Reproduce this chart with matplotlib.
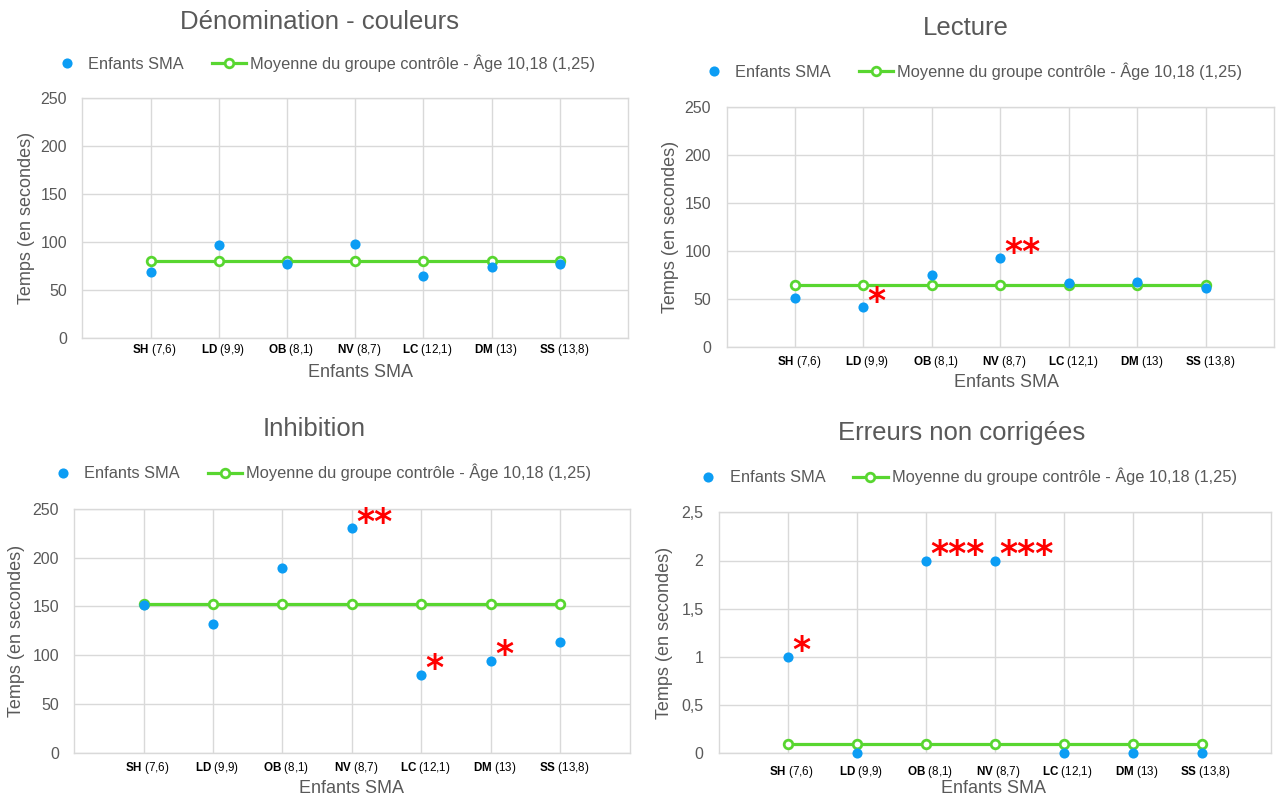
import matplotlib
matplotlib.use("Agg")
import matplotlib.pyplot as plt
from matplotlib.lines import Line2D
from matplotlib.ticker import FixedLocator, FuncFormatter
import matplotlib.transforms as mtransforms

plt.rcParams['font.family'] = ['Liberation Sans', 'DejaVu Sans']
plt.rcParams['mathtext.fontset'] = 'custom'
plt.rcParams['mathtext.rm'] = 'Liberation Sans'
plt.rcParams['mathtext.bf'] = 'Liberation Sans:bold'

# ---------------- data ----------------
categories = ['SH', 'LD', 'OB', 'NV', 'LC', 'DM', 'SS']
ages = ['7,6', '9,9', '8,1', '8,7', '12,1', '13', '13,8']

denom_sma = [69, 97, 77, 98, 64, 74, 77]
denom_ctrl = [80.5, 80.5, 80.5, 80.5, 80.5, 80.5, 80.5]
denom_stars = ['', '', '', '', '', '', '']

lecture_sma = [51, 41, 75, 92, 66, 67, 61]
lecture_ctrl = [64.3, 64.3, 64.3, 64.3, 64.3, 64.3, 64.3]
lecture_stars = ['', '*', '', '**', '', '', '']

inhib_sma = [152, 132, 189, 230, 80, 94, 114]
inhib_ctrl = [152.5, 152.5, 152.5, 152.5, 152.5, 152.5, 152.5]
inhib_stars = ['', '', '', '**', '*', '*', '']

err_sma = [1, 0, 2, 2, 0, 0, 0]
err_ctrl = [0.1, 0.1, 0.1, 0.1, 0.1, 0.1, 0.1]
err_stars = ['*', '', '***', '***', '', '', '']

titles = ['Dénomination - couleurs', 'Lecture', 'Inhibition', 'Erreurs non corrigées']
y_ticks_time = [0, 50, 100, 150, 200, 250]
y_ticks_err = [0, 0.5, 1, 1.5, 2, 2.5]
legend_sma = 'Enfants SMA'
legend_ctrl = 'Moyenne du groupe contrôle - Âge 10,18 (1,25)'
xlabel = 'Enfants SMA'
ylabel = 'Temps (en secondes)'

# ---------------- style ----------------
W, H = 1276, 798
BLUE = '#0C9DF4'
GREEN = '#58D630'
GRID = '#D9D9D9'
TXT = '#595959'

fig = plt.figure(figsize=(W / 100, H / 100), dpi=100)

panels = [
    dict(box=(82.3, 628.0, 98.3, 337.7), sma=denom_sma, ctrl=denom_ctrl, stars=denom_stars,
         ticks=y_ticks_time, title=titles[0], title_xy=(319, 22), leg_xy=(322.5, 63.3),
         ylab_x=26.5, xlab_xy=(360.5, 372.7), xpad=3.0),
    dict(box=(726.5, 1274.4, 106.7, 346.7), sma=lecture_sma, ctrl=lecture_ctrl, stars=lecture_stars,
         ticks=y_ticks_time, title=titles[1], title_xy=(966, 28), leg_xy=(969.5, 71),
         ylab_x=670.6, xlab_xy=(1006.5, 382.7), xpad=5.5),
    dict(box=(74.2, 629.5, 509.0, 752.7), sma=inhib_sma, ctrl=inhib_ctrl, stars=inhib_stars,
         ticks=y_ticks_time, title=titles[2], title_xy=(314, 429), leg_xy=(318.5, 472.7),
         ylab_x=17, xlab_xy=(351.8, 788.3), xpad=5.0),
    dict(box=(718.7, 1270.7, 512.3, 753.3), sma=err_sma, ctrl=err_ctrl, stars=err_stars,
         ticks=y_ticks_err, title=titles[3], title_xy=(961.5, 433), leg_xy=(964, 476.7),
         ylab_x=664.5, xlab_xy=(993, 788.3), xpad=7.5),
]

def fmt_comma(v, pos):
    s = ('%g' % v)
    return s.replace('.', ',')

tick_labels = [r'$\mathbf{%s}$ (%s)' % (c, a) for c, a in zip(categories, ages)]
xpos = list(range(1, len(categories) + 1))

for p in panels:
    l, r, t, b = p['box']
    ax = fig.add_axes([l / W, 1 - b / H, (r - l) / W, (b - t) / H])
    ax.set_xlim(0, len(categories) + 1)
    ax.set_ylim(p['ticks'][0], p['ticks'][-1])
    ax.xaxis.set_major_locator(FixedLocator(xpos))
    ax.set_xticklabels(tick_labels)
    ax.yaxis.set_major_locator(FixedLocator(p['ticks']))
    ax.yaxis.set_major_formatter(FuncFormatter(fmt_comma))
    ax.grid(True, color=GRID, linewidth=1.0, zorder=0)
    ax.set_axisbelow(True)
    for s in ax.spines.values():
        s.set_color(GRID)
        s.set_linewidth(1.0)
    ax.tick_params(axis='both', length=0)
    ax.tick_params(axis='y', pad=11, labelsize=11.5, labelcolor=TXT)
    ax.tick_params(axis='x', pad=p['xpad'], labelsize=8.4, labelcolor='black')
    off = mtransforms.ScaledTranslation(4 / 100, 0, fig.dpi_scale_trans)
    for lab in ax.get_xticklabels():
        lab.set_transform(lab.get_transform() + off)

    ax.plot(xpos, p['ctrl'], color=GREEN, linewidth=2.3, marker='o', markersize=6.2,
            markerfacecolor='white', markeredgecolor=GREEN, markeredgewidth=2.0, zorder=3,
            clip_on=False)
    ax.plot(xpos, p['sma'], linestyle='none', marker='o', markersize=7.3, color=BLUE,
            markeredgewidth=0, zorder=4, clip_on=False)

    for x, y, st in zip(xpos, p['sma'], p['stars']):
        if st:
            ax.annotate(st, xy=(x, y), xytext=(3.0, -3.0), textcoords='offset points',
                        ha='left', va='baseline', color='#FF0000', fontsize=25,
                        fontweight='bold', family='DejaVu Sans', zorder=5)

    ax.set_xlabel(xlabel, fontsize=13, color=TXT)
    ax.set_ylabel(ylabel, fontsize=13, color=TXT)
    ax.xaxis.set_label_coords((p['xlab_xy'][0] - l) / (r - l), (b - p['xlab_xy'][1]) / (b - t))
    ax.xaxis.label.set_va('center')
    ax.yaxis.set_label_coords((p['ylab_x'] - l) / (r - l), 0.5)
    ax.yaxis.label.set_va('center')

    fig.text(p['title_xy'][0] / W, 1 - p['title_xy'][1] / H, p['title'], ha='center', va='center',
             fontsize=18.5, color=TXT)

    h1 = Line2D([], [], linestyle='none', marker='o', markersize=7.3, color=BLUE, markeredgewidth=0)
    h2 = Line2D([], [], color=GREEN, linewidth=2.3, marker='o', markersize=6.2,
                markerfacecolor='white', markeredgecolor=GREEN, markeredgewidth=2.0)
    fig.legend([h1, h2], [legend_sma, legend_ctrl], loc='center',
               bbox_to_anchor=(p['leg_xy'][0] / W, 1 - p['leg_xy'][1] / H),
               ncol=2, frameon=False, fontsize=11.8, labelcolor=TXT,
               handlelength=2.1, handletextpad=0.25, columnspacing=1.7, borderpad=0,
               borderaxespad=0)

fig.savefig('out.png', dpi=100, facecolor='white')
